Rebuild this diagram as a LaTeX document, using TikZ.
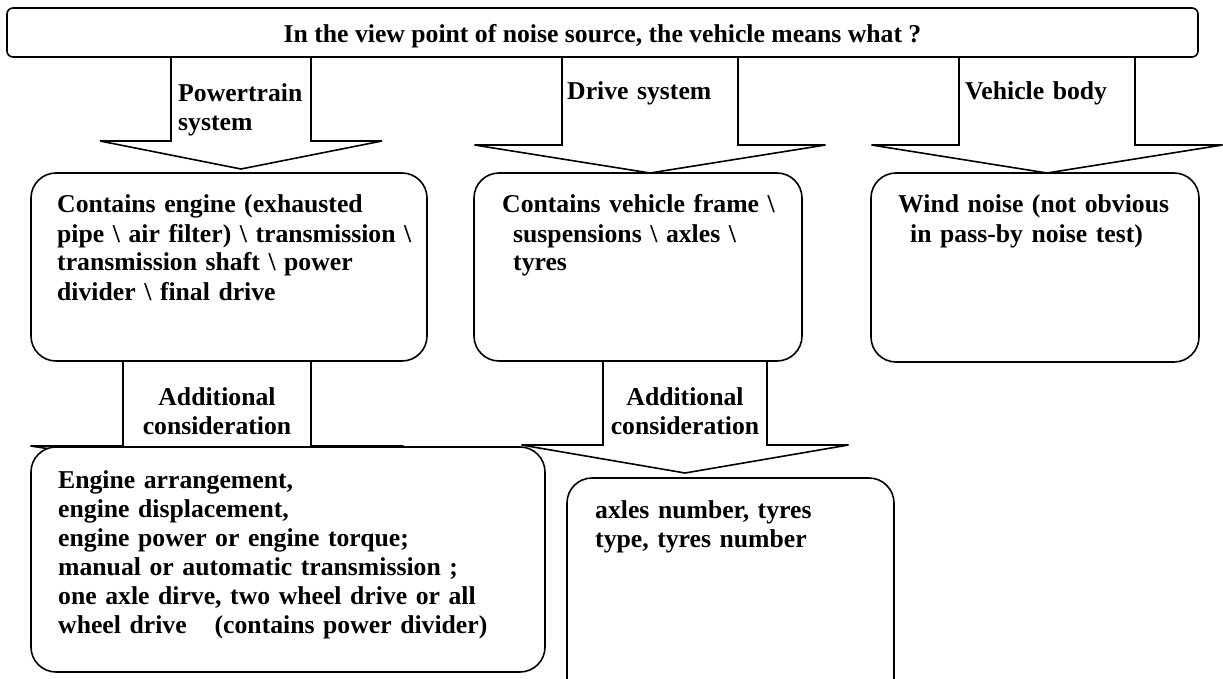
\documentclass[tikz,border=0pt]{standalone}
\usepackage{fontspec}
\setmainfont{Liberation Serif}
\usepackage{tikz}
\usetikzlibrary{positioning,calc,backgrounds}
\newcommand{\noiseFont}{\fontsize{25.7pt}{29pt}\selectfont\bfseries}
\tikzset{
   noiseTitle/.style = {
         rectangle,
         draw,
         fill = white,
         rounded corners = 6pt,
         minimum width = 1191pt,
         minimum height = 49pt,
         inner sep = 0pt,
         text height = 21pt,
         text depth = 0pt,
         font = \noiseFont,
         line width = 1.6pt,
      },
   noiseBox/.style = {
         rectangle,
         draw,
         fill = white,
         rounded corners = 25pt,
         inner sep = 0pt,
         line width = 1.6pt,
      },
   noiseText/.style = {
         anchor = base west,
         align = left,
         text width = 480pt,
         inner sep = 0pt,
         font = \noiseFont,
      },
   noiseLabel/.style = {
         anchor = base,
         align = center,
         text width = 180pt,
         inner sep = 0pt,
         font = \noiseFont,
      },
   noiseArrow/.style = {
         draw,
         line width = 1.6pt,
         line join = miter,
      },
}
% source node, tip coordinate, half shaft width, half head width
\newcommand{\noiseBigArrow}[4]{%
   \path [noiseArrow] ($(#1.south -| #2)+(-#3,0)$) |- ($(#2)+(-#4,-28)$)
      -- (#2) -- ($(#2)+(#4,-28)$) -| ($(#1.south -| #2)+(#3,0)$);
}

\begin{document}
\begin{tikzpicture}[x=1pt, y=-1pt]
\useasboundingbox (0,0) rectangle (1223,679);

% Place nodes
\node [noiseTitle] (title) at (602.5,32.5)
	{In the view point of noise source, the vehicle means what ?};

\node [noiseBox, minimum width=396pt, minimum height=188pt]
	(engine) at (229,267) {};
\node [noiseBox, minimum width=328pt, minimum height=188pt]
	(frame) at (638,267) {};
\node [noiseBox, minimum width=328pt, minimum height=189pt]
	(wind) at (1035,267.5) {};
\node [noiseBox, minimum width=514pt, minimum height=225pt]
	(layout) at (288,559.5) {};
\node [noiseBox, minimum width=327pt, minimum height=230pt]
	(axles) at (730.5,593) {};

\node [noiseText] (engine-txt) at (57,213)
	{Contains engine (exhausted\\
	 pipe \textbackslash{} air filter) \textbackslash{} transmission \textbackslash\\
	 transmission shaft \textbackslash{} power\\
	 divider \textbackslash{} final drive};
\node [noiseText] (frame-txt) at (502,213)
	{Contains vehicle frame \textbackslash\\
	 \hspace*{11pt}suspensions \textbackslash{} axles \textbackslash\\
	 \hspace*{11pt}tyres};
\node [noiseText] (wind-txt) at (898,213)
	{Wind noise (not obvious\\
	 \hspace*{12pt}in pass-by noise test)};
\node [noiseText] (layout-txt) at (58,488)
	{Engine arrangement,\\
	 engine displacement,\\
	 engine power or engine torque;\\
	 manual or automatic transmission ;\\
	 one axle dirve, two wheel drive or all\\
	 wheel drive\hspace*{28pt}(contains power divider)};
\node [noiseText] (axles-txt) at (595,518)
	{axles number, tyres\\
	 type, tyres number};

\node [noiseText] (power-lbl) at (178,102) {Powertrain\\system};
\node [noiseText] (drive-lbl) at (567,100) {Drive system};
\node [noiseText] (body-lbl) at (965,100) {Vehicle body};
\node [noiseLabel] (extra-lbl1) at (217,405) {Additional\\consideration};
\node [noiseLabel] (extra-lbl2) at (685,405) {Additional\\consideration};

% Place joins
\coordinate (power-tip) at (241,169);
\coordinate (drive-tip) at (650,173);
\coordinate (body-tip) at (1047,173);
\coordinate (extra-tip1) at (217,474);
\coordinate (extra-tip2) at (685,473);

% Draw edges
\begin{pgfonlayer}{background}
\noiseBigArrow{title}{power-tip}{70}{141}
\noiseBigArrow{title}{drive-tip}{88}{175.5}
\noiseBigArrow{title}{body-tip}{88}{175.5}
\noiseBigArrow{engine}{extra-tip1}{94}{186.5}
\noiseBigArrow{frame}{extra-tip2}{82}{163.5}
\end{pgfonlayer}

\end{tikzpicture}
\end{document}
